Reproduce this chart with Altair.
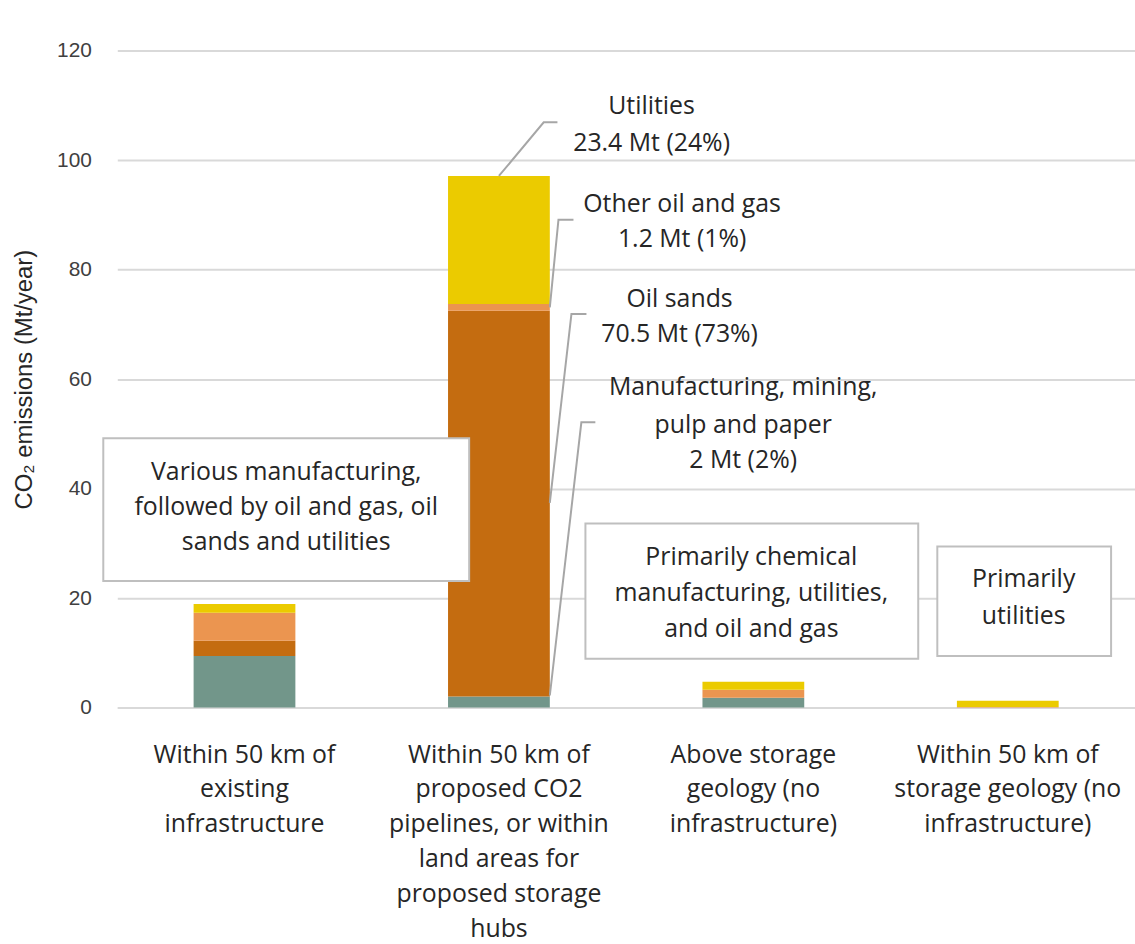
import altair as alt
import pandas as pd

# Location categories (line breaks marked with "|")
categories = [
    "Within 50 km of|existing|infrastructure",
    "Within 50 km of|proposed CO2|pipelines, or within|land areas for|proposed storage|hubs",
    "Above storage|geology (no|infrastructure)",
    "Within 50 km of|storage geology (no|infrastructure)",
]

# Sectors, stacked bottom to top
sectors = ["Manufacturing, mining, pulp and paper", "Oil sands", "Other oil and gas", "Utilities"]
sector_colors = ["#72968A", "#C46C10", "#EB9550", "#EBCB00"]

# Emissions by sector for each location category (Mt/year)
manufacturing = [9.4, 2.0, 1.8, 0.0]
oil_sands = [2.8, 70.5, 0.0, 0.0]
other_oil_gas = [5.1, 1.2, 1.45, 0.1]
utilities = [1.6, 23.4, 1.45, 1.15]

series = [manufacturing, oil_sands, other_oil_gas, utilities]

rows = []
for ci, cat in enumerate(categories):
    for si, sec in enumerate(sectors):
        rows.append({"category": cat, "sector": sec, "value": series[si][ci], "ord": si})
bars_df = pd.DataFrame(rows)

# Sector call-out labels for the middle bar (slot units on x, Mt/year on y)
seg_label_text = ["Utilities", "23.4 Mt (24%)",
                  "Other oil and gas", "1.2 Mt (1%)",
                  "Oil sands", "70.5 Mt (73%)",
                  "Manufacturing, mining,", "pulp and paper", "2 Mt (2%)"]
seg_label_x = [2.10, 2.10, 2.22, 2.22, 2.21, 2.21, 2.46, 2.46, 2.46]
seg_label_y = [109.8, 103.1, 91.9, 85.5, 74.6, 68.3, 58.5, 51.6, 45.2]

# Leader lines: three points each
leader_id = [0, 0, 0, 1, 1, 1, 2, 2, 2, 3, 3, 3]
leader_x = [1.50, 1.676, 1.730, 1.70, 1.734, 1.793, 1.70, 1.785, 1.844, 1.70, 1.824, 1.879]
leader_y = [97.1, 106.9, 106.9, 73.1, 89.1, 89.1, 37.4, 71.9, 71.9, 2.2, 52.1, 52.1]

# Summary boxes
box_x = [-0.055, 1.840, 3.223]
box_x2 = [1.383, 3.148, 3.906]
box_y = [49.2, 33.6, 29.4]
box_y2 = [23.1, 8.9, 9.4]

box_text = ["Various manufacturing,", "followed by oil and gas, oil", "sands and utilities",
            "Primarily chemical", "manufacturing, utilities,", "and oil and gas",
            "Primarily", "utilities"]
box_text_x = [0.664, 0.664, 0.664, 2.492, 2.492, 2.492, 3.5625, 3.5625]
box_text_y = [43.0, 36.7, 30.3, 27.4, 20.9, 14.3, 23.4, 16.7]

TEXT_FONT = "Open Sans"
TEXT_SIZE = 25
TEXT_COLOR = "#262626"
LINE_GRAY = "#A6A6A6"

y_scale = alt.Scale(domain=[0, 120], nice=False)
slot_scale = alt.Scale(domain=[0, 4], nice=False, zero=False)

bars = alt.Chart(bars_df).mark_bar().encode(
    x=alt.X("category:N", sort=categories,
            scale=alt.Scale(paddingInner=0.6, paddingOuter=0.3),
            axis=alt.Axis(title=None, labelAngle=0, labelExpr="split(datum.label, '|')",
                          labelFont=TEXT_FONT, labelFontSize=TEXT_SIZE, labelLineHeight=35,
                          labelColor=TEXT_COLOR, labelPadding=35, ticks=False, domain=True,
                          grid=False, domainColor="#D9D9D9", domainWidth=2, labelLimit=400)),
    y=alt.Y("value:Q", stack="zero", scale=y_scale,
            axis=alt.Axis(values=[0, 20, 40, 60, 80, 100, 120], title="CO₂ emissions (Mt/year)",
                          grid=True, gridColor="#D9D9D9", gridWidth=2, domain=False, ticks=False,
                          labelFont="Liberation Sans", labelFontSize=21, labelColor="#404040",
                          labelPadding=26, titleFont="Liberation Sans", titleFontSize=24,
                          titleFontWeight="normal", titleColor="#262626", titlePadding=20)),
    color=alt.Color("sector:N", sort=sectors,
                    scale=alt.Scale(domain=sectors, range=sector_colors), legend=None),
    order=alt.Order("ord:Q", sort="ascending"),
)

leaders_df = pd.DataFrame({"id": leader_id, "x": leader_x, "y": leader_y,
                           "seq": list(range(len(leader_id)))})
leaders = alt.Chart(leaders_df).mark_line(color=LINE_GRAY, strokeWidth=2).encode(
    x=alt.X("x:Q", scale=slot_scale, axis=None),
    y=alt.Y("y:Q"),
    detail="id:N",
    order="seq:Q",
)

boxes_df = pd.DataFrame({"x": box_x, "x2": box_x2, "y": box_y, "y2": box_y2})
boxes = alt.Chart(boxes_df).mark_rect(fill="white", stroke="#BFBFBF", strokeWidth=2).encode(
    x=alt.X("x:Q", scale=slot_scale, axis=None),
    x2="x2:Q",
    y=alt.Y("y:Q"),
    y2="y2:Q",
)

box_text_df = pd.DataFrame({"t": box_text, "x": box_text_x, "y": box_text_y})
box_labels = alt.Chart(box_text_df).mark_text(
    font=TEXT_FONT, fontSize=TEXT_SIZE, color=TEXT_COLOR, align="center", baseline="middle"
).encode(
    x=alt.X("x:Q", scale=slot_scale, axis=None),
    y=alt.Y("y:Q"),
    text="t:N",
)

seg_df = pd.DataFrame({"t": seg_label_text, "x": seg_label_x, "y": seg_label_y})
seg_labels = alt.Chart(seg_df).mark_text(
    font=TEXT_FONT, fontSize=TEXT_SIZE, color=TEXT_COLOR, align="center", baseline="middle"
).encode(
    x=alt.X("x:Q", scale=slot_scale, axis=None),
    y=alt.Y("y:Q"),
    text="t:N",
)

chart = alt.layer(bars, leaders, boxes, box_labels, seg_labels).resolve_scale(
    x="independent"
).properties(
    width=1024,
    height=661,
    background="white",
    autosize=alt.AutoSizeParams(type="none"),
    padding={"left": 118, "top": 48, "right": 0, "bottom": 235},
).configure_view(
    stroke=None
).configure_axis(
    domain=False, grid=False, ticks=False
)

chart.save("out.html", embed_options={"renderer": "svg", "actions": False})
